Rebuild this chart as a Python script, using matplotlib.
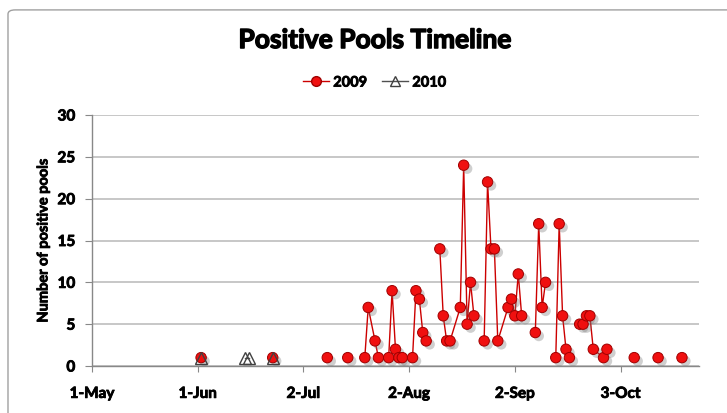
import numpy as np
import pandas as pd
import matplotlib
matplotlib.use("Agg")
from matplotlib import pyplot as plt
import matplotlib.dates as mdates
import matplotlib.patheffects as pe
from matplotlib.patches import FancyBboxPatch

plt.rcParams['font.family'] = ['Lato', 'DejaVu Sans']

# 2009 positive pools, blank (nan) days break the line like empty cells in the sheet
dates_2009 = ["2009-06-02", "2009-06-03",
              "2009-06-23", "2009-06-24",
              "2009-07-09", "2009-07-10",
              "2009-07-15", "2009-07-16",
              "2009-07-20", "2009-07-21", "2009-07-23", "2009-07-24", "2009-07-25",
              "2009-07-27", "2009-07-28", "2009-07-29", "2009-07-30", "2009-07-31", "2009-08-01",
              "2009-08-03", "2009-08-04", "2009-08-05", "2009-08-06", "2009-08-07", "2009-08-08",
              "2009-08-11", "2009-08-12", "2009-08-13", "2009-08-14", "2009-08-17", "2009-08-18",
              "2009-08-19", "2009-08-20", "2009-08-21", "2009-08-22",
              "2009-08-24", "2009-08-25", "2009-08-26", "2009-08-27", "2009-08-28", "2009-08-31",
              "2009-09-01", "2009-09-02", "2009-09-03", "2009-09-04", "2009-09-05",
              "2009-09-08", "2009-09-09", "2009-09-10", "2009-09-11", "2009-09-12",
              "2009-09-14", "2009-09-15", "2009-09-16", "2009-09-17", "2009-09-18", "2009-09-19",
              "2009-09-21", "2009-09-22", "2009-09-23", "2009-09-24", "2009-09-25", "2009-09-28",
              "2009-09-29", "2009-09-30",
              "2009-10-07", "2009-10-08",
              "2009-10-14", "2009-10-15",
              "2009-10-21"]
pools_2009 = [1, np.nan,
              1, np.nan,
              1, np.nan,
              1, np.nan,
              1, 7, 3, 1, np.nan,
              1, 9, 2, 1, 1, np.nan,
              1, 9, 8, 4, 3, np.nan,
              14, 6, 3, 3, 7, 24,
              5, 10, 6, np.nan,
              3, 22, 14, 14, 3, 7,
              8, 6, 11, 6, np.nan,
              4, 17, 7, 10, np.nan,
              1, 17, 6, 2, 1, np.nan,
              5, 5, 6, 6, 2, 1,
              2, np.nan,
              1, np.nan,
              1, np.nan,
              1]

# 2010 positive pools on the same calendar days
dates_2010 = ["2009-06-02", "2009-06-03", "2009-06-15", "2009-06-16", "2009-06-17", "2009-06-23"]
pools_2010 = [1, np.nan, 1, 1, np.nan, 1]

x_ticks = pd.date_range("2009-05-01", periods=6, freq="31D")

d09 = pd.to_datetime(dates_2009)
d10 = pd.to_datetime(dates_2010)

fig = plt.figure(figsize=(7.27, 4.13), dpi=100)

# chart border
fig.patches.append(FancyBboxPatch((0.011, -0.05), 1.2, 1.026, boxstyle="round,pad=0,rounding_size=0.01",
                                  transform=fig.transFigure, facecolor="white",
                                  edgecolor="#a0a0a0", linewidth=1.0, zorder=-1))

ax = fig.add_axes([0.1265, 0.1138, 0.835, 0.6077])
ax.set_facecolor("none")

shadow = [pe.SimplePatchShadow(offset=(2.5, -2.5), shadow_rgbFace="#777777", alpha=0.35), pe.Normal()]
# thicken the bold text a little, excel renders it heavier
heavy = [pe.withStroke(linewidth=0.6, foreground="black")]

# 2009: line, then shaded markers
ax.plot(d09, pools_2009, color="#cc0000", linewidth=1.0, zorder=3)
ax.plot(d09, pools_2009, linestyle="none", marker="o", markersize=7.5,
        markerfacecolor="#f01010", markeredgecolor="#a00000", markeredgewidth=0.7,
        path_effects=shadow, zorder=4)

# 2010
ax.plot(d10, pools_2010, color="#505050", linewidth=1.0, marker="^", markersize=8.5,
        markerfacecolor="none", markeredgecolor="#404040", markeredgewidth=1.0, zorder=5)

# legend handles
h1, = ax.plot([], [], color="#cc0000", linewidth=1.0, marker="o", markersize=7,
              markerfacecolor="#f01010", markeredgecolor="#a00000")
h2, = ax.plot([], [], color="#505050", linewidth=1.0, marker="^", markersize=7,
              markerfacecolor="none", markeredgecolor="#404040")
leg = fig.legend([h1, h2], ["2009", "2010"], loc="center", bbox_to_anchor=(0.515, 0.80), ncol=2,
                 frameon=False, handlelength=1.8, handletextpad=0.3, columnspacing=1.0,
                 prop={"weight": "bold", "size": 10.5})
for t in leg.get_texts():
    t.set_path_effects(heavy)

ax.set_ylim(0, 30)
ax.set_yticks(range(0, 31, 5))
ax.set_xlim(pd.Timestamp("2009-05-01"), pd.Timestamp("2009-10-26"))
ax.set_xticks(x_ticks)
ax.xaxis.set_major_formatter(mdates.DateFormatter("%-d-%b"))

ax.grid(axis="y", color="#bdbdbd", linewidth=1.2)
ax.set_axisbelow(True)
for s in ["top", "right"]:
    ax.spines[s].set_visible(False)
for s in ["left", "bottom"]:
    ax.spines[s].set_color("#888888")
    ax.spines[s].set_linewidth(1.0)

ax.tick_params(axis="y", direction="out", length=5, color="#888888", pad=7, labelsize=11)
ax.tick_params(axis="x", direction="out", length=4, color="#888888", pad=11, labelsize=11)
for lab in ax.get_xticklabels() + ax.get_yticklabels():
    lab.set_fontweight("bold")
    lab.set_path_effects(heavy)

ylab = ax.set_ylabel("Number of positive pools", fontsize=10.5, fontweight="bold", labelpad=5)
ylab.set_path_effects(heavy)

fig.text(0.515, 0.903, "Positive Pools Timeline", ha="center", va="center",
         fontsize=19, fontweight="bold",
         path_effects=[pe.withStroke(linewidth=1.0, foreground="black")])

fig.savefig("out.png", dpi=100)
